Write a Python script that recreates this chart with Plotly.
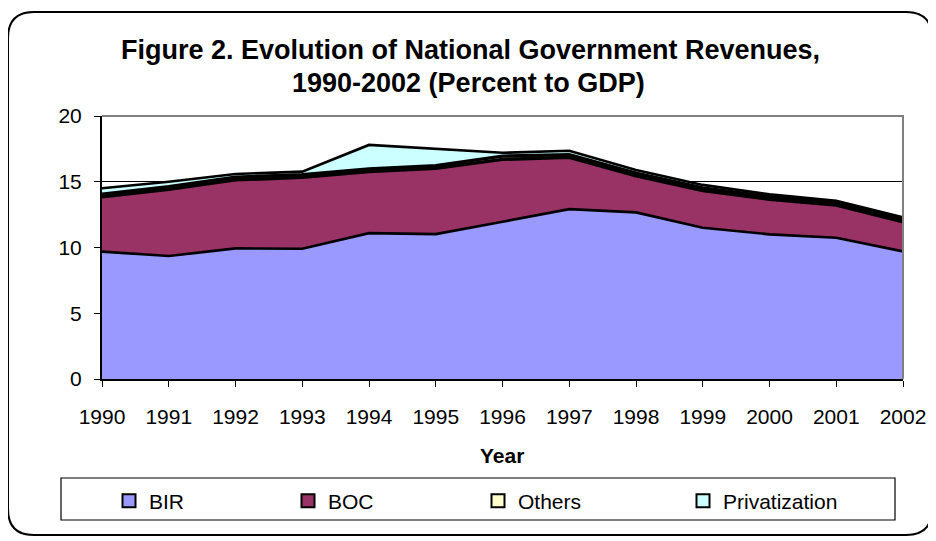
import plotly.graph_objects as go

years = [1990, 1991, 1992, 1993, 1994, 1995, 1996, 1997, 1998, 1999, 2000, 2001, 2002]
bir = [9.69, 9.35, 9.93, 9.9, 11.09, 11.02, 11.96, 12.92, 12.67, 11.5, 11.0, 10.74, 9.7]
boc = [4.16, 5.07, 5.21, 5.44, 4.69, 5.01, 4.74, 3.94, 2.78, 2.83, 2.66, 2.49, 2.26]
others = [0.2, 0.2, 0.2, 0.2, 0.2, 0.2, 0.25, 0.2, 0.2, 0.2, 0.2, 0.18, 0.18]
privatization = [0.45, 0.38, 0.25, 0.23, 1.82, 1.27, 0.25, 0.3, 0.25, 0.23, 0.18, 0.15, 0.15]

series_names = ["BIR", "BOC", "Others", "Privatization"]
series_values = [bir, boc, others, privatization]
series_colors = ["#9999FF", "#993366", "#FFFFCC", "#CCFFFF"]
series_line_w = [2.6, 3.4, 3.4, 2.6]
y_ticks = [0, 5, 10, 15, 20]

FONT = "Arial, Liberation Sans, sans-serif"
OFF = 8  # page body margin in the browser
W, H = 936 - OFF, 541 - OFF
L, T = 102 - OFF, 116 - OFF
R = W - (903 - OFF)
B = H - (379 - OFF)
PW = W - L - R
PH = H - T - B


def px(x):
    return (x - OFF - L) / PW


def py(y):
    return (H - B - (y - OFF)) / PH


fig = go.Figure()
for name, vals, col, lw in zip(series_names, series_values, series_colors, series_line_w):
    fig.add_trace(go.Scatter(
        x=years, y=vals, name=name, stackgroup="one", mode="lines",
        line=dict(color="black", width=lw), fillcolor=col, showlegend=False,
        hoverinfo="x+y+name",
    ))

legend_ids = ["legend", "legend2", "legend3", "legend4"]
legend_x = [109, 288, 478, 683]
for name, col, lid in zip(series_names, series_colors, legend_ids):
    fig.add_trace(go.Scatter(
        x=[None], y=[None], name=name, mode="markers", legend=lid,
        marker=dict(symbol="square", size=13, color=col, line=dict(color="black", width=2)),
        showlegend=True,
    ))

legend_common = dict(orientation="h", xanchor="left", yanchor="middle", y=py(501),
                     bgcolor="rgba(0,0,0,0)", borderwidth=0,
                     font=dict(family=FONT, size=21, color="black"))
layout_legends = {}
for lid, lx in zip(legend_ids, legend_x):
    layout_legends[lid] = dict(x=px(lx), **legend_common)

# outer rounded frame (screen pixel coords -> paper)
x0, y0, x1, y1, r = 8, 12, 932, 535, 26
pts = [
    ("M", (x0 + r, y0)), ("L", (x1 - r, y0)), ("Q", (x1, y0), (x1, y0 + r)),
    ("L", (x1, y1 - r)), ("Q", (x1, y1), (x1 - r, y1)), ("L", (x0 + r, y1)),
    ("Q", (x0, y1), (x0, y1 - r)), ("L", (x0, y0 + r)), ("Q", (x0, y0), (x0 + r, y0)),
]
path = ""
for seg in pts:
    cmd = seg[0]
    coords = " ".join(f"{px(p[0]):.5f},{py(p[1]):.5f}" for p in seg[1:])
    path += f"{cmd} {coords} "
path += "Z"

shapes = [
    dict(type="path", xref="paper", yref="paper", path=path,
         line=dict(color="black", width=2), layer="below"),
    dict(type="rect", xref="paper", yref="paper", x0=px(61), x1=px(895), y0=py(478), y1=py(520),
         line=dict(color="black", width=1.2), layer="below"),
    dict(type="path", xref="paper", yref="paper", path="M 0,1 L 1,1 L 1,0",
         line=dict(color="#808080", width=2), layer="above"),
]

annotations = [
    dict(text="<b>Figure 2. Evolution of National Government Revenues,</b>", xref="paper", yref="paper",
         x=px(470), y=py(50), showarrow=False, xanchor="center", yanchor="middle",
         font=dict(family=FONT, size=27, color="black")),
    dict(text="<b>1990-2002 (Percent to GDP)</b>", xref="paper", yref="paper",
         x=px(468), y=py(83), showarrow=False, xanchor="center", yanchor="middle",
         font=dict(family=FONT, size=27, color="black")),
    dict(text="<b>Year</b>", xref="paper", yref="paper", x=px(502), y=py(455), showarrow=False,
         xanchor="center", yanchor="middle", font=dict(family=FONT, size=21, color="black")),
]

fig.update_layout(
    width=W, height=H, margin=dict(l=L, r=R, t=T, b=B, autoexpand=False),
    paper_bgcolor="white", plot_bgcolor="white",
    font=dict(family=FONT, size=21, color="black"),
    shapes=shapes, annotations=annotations,
    xaxis=dict(range=[1990, 2002], tickmode="array", tickvals=years,
               ticktext=[str(y) for y in years], showgrid=False, zeroline=False,
               showline=True, linecolor="black", linewidth=1.5,
               ticks="outside", ticklen=6, tickcolor="black", tickwidth=1,
               ticklabelstandoff=12, tickfont=dict(family=FONT, size=21, color="black")),
    yaxis=dict(range=[0, 20], tickmode="array", tickvals=y_ticks, showgrid=True,
               gridcolor="black", gridwidth=1, zeroline=False,
               showline=True, linecolor="black", linewidth=2,
               ticks="outside", ticklen=6, tickcolor="black", tickwidth=1,
               ticklabelstandoff=8, tickfont=dict(family=FONT, size=21, color="black")),
    showlegend=True,
    **layout_legends,
)

fig.write_html("out.html")
